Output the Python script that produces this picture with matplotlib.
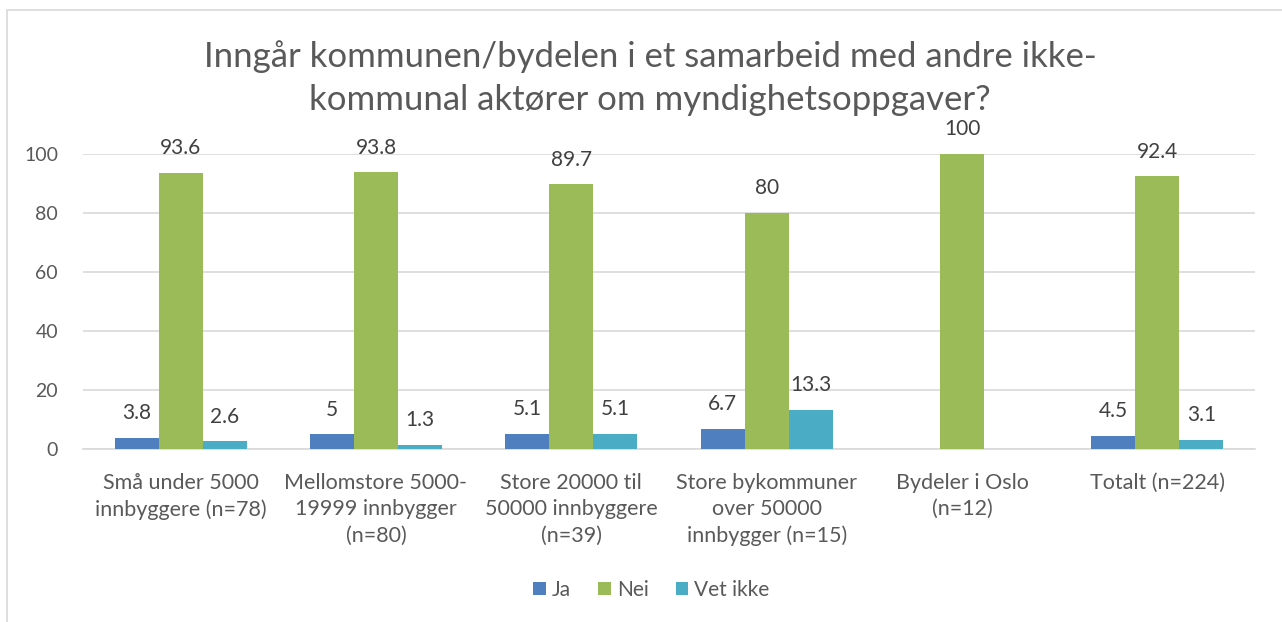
import numpy as np
import matplotlib.pyplot as plt
from matplotlib.patches import Rectangle

plt.rcParams['font.family'] = ['Lato', 'DejaVu Sans']

categories = ['Små under 5000\ninnbyggere (n=78)',
              'Mellomstore 5000-\n19999 innbygger\n(n=80)',
              'Store 20000 til\n50000 innbyggere\n(n=39)',
              'Store bykommuner\nover 50000\ninnbygger (n=15)',
              'Bydeler i Oslo\n(n=12)',
              'Totalt (n=224)']
ja = [3.8, 5, 5.1, 6.7, np.nan, 4.5]
nei = [93.6, 93.8, 89.7, 80, 100, 92.4]
vet_ikke = [2.6, 1.3, 5.1, 13.3, np.nan, 3.1]
series = [('Ja', ja, '#4f7fbf'), ('Nei', nei, '#9bbb59'), ('Vet ikke', vet_ikke, '#4bacc6')]

title = 'Inngår kommunen/bydelen i et samarbeid med andre ikke-\nkommunal aktører om myndighetsoppgaver?'
text_col = '#595959'

fig = plt.figure(figsize=(12.82, 6.22), dpi=100)
ax = fig.add_axes([83 / 1282, 1 - 449 / 622, (1255 - 83) / 1282, (449 - 154) / 622])

# chart border
fig.patches.append(Rectangle((7 / 1282, -0.05), 1.2, 1 - 10 / 622 + 0.05, transform=fig.transFigure,
                             fill=False, edgecolor='#d9d9d9', linewidth=1.2))

x = np.arange(len(categories))
w = 0.225
for i, (name, vals, col) in enumerate(series):
    pos = x + (i - 1) * w
    bars = ax.bar(pos, vals, w, color=col, label=name, zorder=3)
    for p, v in zip(pos, vals):
        if np.isnan(v):
            continue
        ax.text(p, v + 5, f'{v:g}', ha='center', va='bottom', fontsize=15, color='#404040')

ax.set_xlim(-0.5, len(categories) - 0.5)
ax.set_ylim(0, 100)
ax.set_yticks(range(0, 101, 20))
ax.yaxis.grid(True, color='#d9d9d9', linewidth=1.2, zorder=0)
for s in ['top', 'right', 'left']:
    ax.spines[s].set_visible(False)
ax.spines['bottom'].set_color('#d9d9d9')
ax.spines['bottom'].set_linewidth(1.2)
ax.tick_params(axis='both', length=0, labelsize=14, colors=text_col)
ax.tick_params(axis='y', pad=18)
ax.set_xticks(x)
ax.set_xticklabels(categories, va='top', linespacing=1.4, fontsize=15.5)
ax.tick_params(axis='x', pad=17)

fig.text(0.507, 1 - 78 / 622, title, ha='center', va='center', fontsize=25,
         color=text_col, linespacing=1.45)

ax.legend(loc='center', bbox_to_anchor=(0.485, (449 - 590) / (449 - 154)), ncol=3, frameon=False,
          fontsize=15, labelcolor=text_col, handlelength=0.6, handleheight=0.6,
          handletextpad=0.3, columnspacing=1.3)

fig.savefig('out.png', dpi=100)
